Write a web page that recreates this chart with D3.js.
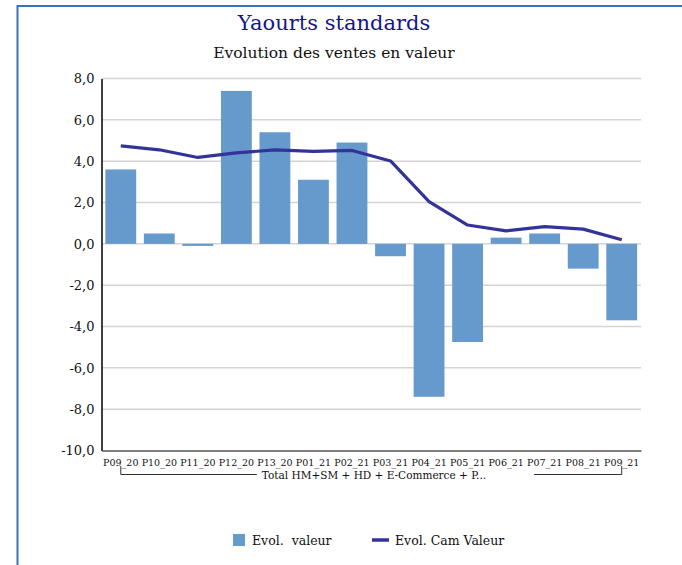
<!DOCTYPE html>
<html>
<head>
<meta charset="utf-8">
<script src="https://cdn.jsdelivr.net/npm/d3@7"></script>
<style>
  body { margin: 0; background: #fff; }
  svg { display: block; font-family: "DejaVu Serif", serif; }
</style>
</head>
<body>
<svg id="chart" width="682" height="565"></svg>
<script>
const periods = ['P09_20', 'P10_20', 'P11_20', 'P12_20', 'P13_20', 'P01_21', 'P02_21',
    'P03_21', 'P04_21', 'P05_21', 'P06_21', 'P07_21', 'P08_21', 'P09_21'];
const evolValeur = [3.6, 0.5, -0.1, 7.4, 5.4, 3.1, 4.9, -0.6, -7.4, -4.75, 0.3, 0.5, -1.2, -3.7];
const evolCamValeur = [4.74, 4.55, 4.18, 4.4, 4.55, 4.47, 4.52, 4.01, 2.04, 0.91, 0.63, 0.83, 0.71, 0.2];
const yTicks = [8, 6, 4, 2, 0, -2, -4, -6, -8, -10];
const groupLabel = 'Total HM+SM + HD + E-Commerce + P...';

const svg = d3.select('#chart');
const plotLeft = 101.5, plotRight = 641, plotTop = 78.5, plotBottom = 450.5;

// blue frame
svg.append('rect').attr('x', 17.5).attr('y', 6).attr('width', 700).attr('height', 600)
    .attr('fill', 'none').attr('stroke', '#3a72c0').attr('stroke-width', 2);

svg.append('text').text('Yaourts standards').attr('x', 334).attr('y', 30)
    .attr('text-anchor', 'middle').attr('font-size', '21px').attr('fill', '#16168a');
svg.append('text').text('Evolution des ventes en valeur').attr('x', 334).attr('y', 58)
    .attr('text-anchor', 'middle').attr('font-size', '15.5px').attr('fill', '#111');

const x = d3.scaleBand().domain(periods).range([plotLeft, plotRight]).paddingInner(0.2).paddingOuter(0.1);
const y = d3.scaleLinear().domain([-10, 8]).range([plotBottom, plotTop]);

// gridlines
svg.append('g').selectAll('line').data(yTicks.filter(t => t > -10)).enter().append('line')
    .attr('x1', plotLeft).attr('x2', plotRight).attr('y1', d => y(d)).attr('y2', d => y(d))
    .attr('stroke', '#d4d4d4').attr('stroke-width', 1.5);

// bars
svg.append('g').selectAll('rect').data(evolValeur).enter().append('rect')
    .attr('x', (d, i) => x(periods[i]))
    .attr('width', x.bandwidth())
    .attr('y', d => y(Math.max(0, d)))
    .attr('height', d => Math.abs(y(d) - y(0)))
    .attr('fill', '#6699cc');

// line
const line = d3.line().x((d, i) => x(periods[i]) + x.bandwidth() / 2).y(d => y(d));
svg.append('path').datum(evolCamValeur).attr('d', line)
    .attr('fill', 'none').attr('stroke', '#333399').attr('stroke-width', 3.2)
    .attr('stroke-linejoin', 'round');

// y axis
const yAxis = svg.append('g').attr('transform', `translate(${plotLeft},0)`)
    .call(d3.axisLeft(y).tickValues(yTicks).tickSize(0).tickPadding(7)
        .tickFormat(d => d.toFixed(1).replace('.', ',')));
yAxis.select('.domain').attr('stroke', '#000').attr('stroke-width', 1.5);
yAxis.selectAll('text').attr('font-family', '"DejaVu Serif", serif').attr('font-size', '13px').attr('fill', '#111');

// x axis
const xAxis = svg.append('g').attr('transform', `translate(0,${plotBottom})`)
    .call(d3.axisBottom(x).tickSize(0).tickPadding(9));
xAxis.select('.domain').attr('stroke', '#555').attr('stroke-width', 1.5);
xAxis.selectAll('text').attr('font-family', '"DejaVu Serif", serif').attr('font-size', '9.5px').attr('fill', '#111');

// group bracket
const gx0 = x(periods[0]) + x.bandwidth() / 2;
const gx1 = x(periods[periods.length - 1]) + x.bandwidth() / 2;
const gLabel = svg.append('text').text(groupLabel).attr('x', 374).attr('y', 479)
    .attr('text-anchor', 'middle').attr('font-size', '10.5px').attr('fill', '#111');
const lw = gLabel.node().getComputedTextLength();
svg.append('path')
    .attr('d', `M${gx0},466V474.5H${374 - lw / 2 - 5}M${374 + lw / 2 + 48},474.5H${gx1}V466`)
    .attr('fill', 'none').attr('stroke', '#333').attr('stroke-width', 1);

// legend
const legend = svg.append('g');
legend.append('rect').attr('x', 233).attr('y', 534).attr('width', 12).attr('height', 12).attr('fill', '#6699cc');
legend.append('text').text('Evol.  valeur').attr('x', 252).attr('y', 545)
    .attr('font-size', '12.5px').attr('fill', '#111').style('white-space', 'pre');
legend.append('line').attr('x1', 372).attr('x2', 389).attr('y1', 540).attr('y2', 540)
    .attr('stroke', '#333399').attr('stroke-width', 3.5);
legend.append('text').text('Evol. Cam Valeur').attr('x', 395).attr('y', 545)
    .attr('font-size', '12.5px').attr('fill', '#111');
</script>
</body>
</html>
